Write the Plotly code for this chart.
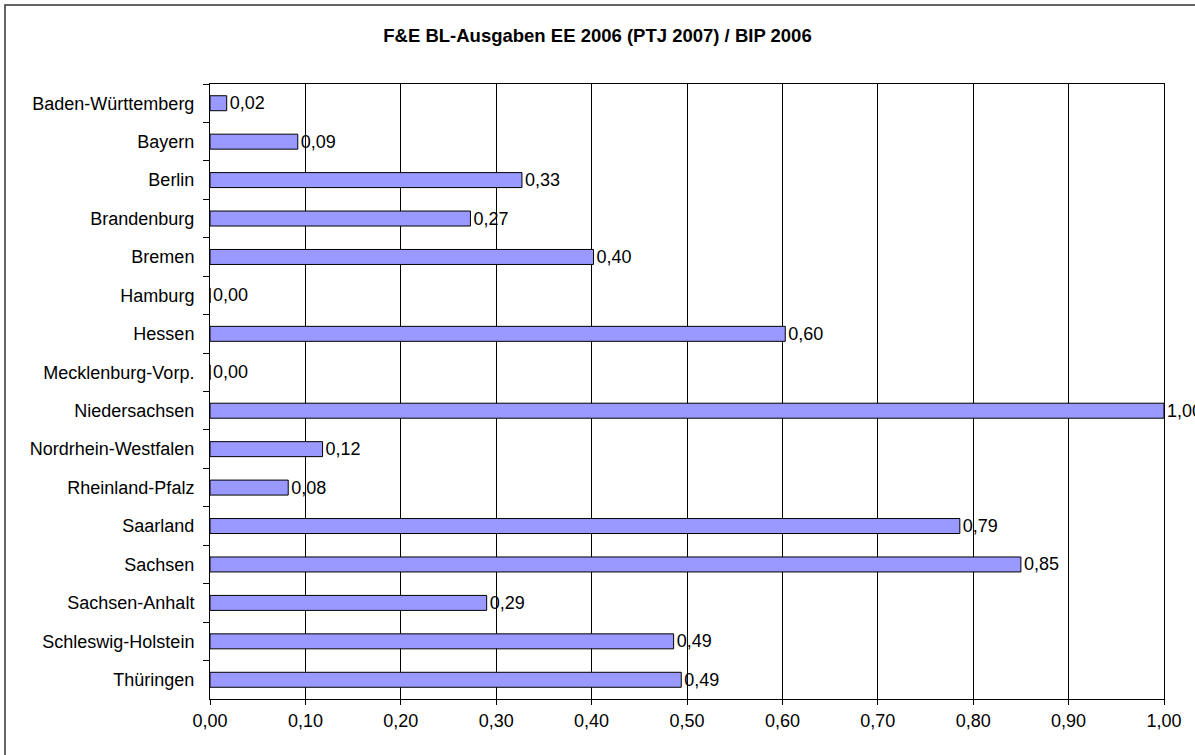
import plotly.graph_objects as go

categories = ["Baden-Württemberg", "Bayern", "Berlin", "Brandenburg", "Bremen",
              "Hamburg", "Hessen", "Mecklenburg-Vorp.", "Niedersachsen",
              "Nordrhein-Westfalen", "Rheinland-Pfalz", "Saarland", "Sachsen",
              "Sachsen-Anhalt", "Schleswig-Holstein", "Thüringen"]
values = [0.0175, 0.092, 0.327, 0.273, 0.402, 0.0, 0.603, 0.0, 1.0,
          0.118, 0.082, 0.786, 0.850, 0.290, 0.486, 0.494]
x_ticks = [0.0, 0.1, 0.2, 0.3, 0.4, 0.5, 0.6, 0.7, 0.8, 0.9, 1.0]
title_text = "F&E BL-Ausgaben EE 2006 (PTJ 2007) / BIP 2006"

FONT = "Liberation Sans, Arial, sans-serif"

fig = go.Figure(go.Bar(
    x=values, y=categories, orientation="h",
    marker=dict(color="#9999FF", line=dict(color="black", width=1)),
    texttemplate="%{x:.2f}", textposition="outside", constraintext="none",
    textfont=dict(family=FONT, size=18, color="black"),
    cliponaxis=False,
))

W, H = 1195, 755
L, R, T, B = 210, 31, 84, 56
pw, ph = W - L - R, H - T - B

fig.update_layout(
    width=W, height=H,
    margin=dict(l=L, r=R, t=T, b=B),
    paper_bgcolor="white", plot_bgcolor="white",
    separators=",.",
    bargap=0.61,
    showlegend=False,
    font=dict(family=FONT, size=18, color="black"),
    title=dict(text="<b>" + title_text + "</b>", xref="container", x=0.5,
               xanchor="center", yref="container", y=1 - 36 / H, yanchor="middle",
               font=dict(family=FONT, size=18.5, color="black")),
    xaxis=dict(range=[0, 1], tickvals=x_ticks, tickformat=".2f",
               showgrid=True, gridcolor="black", gridwidth=1,
               showline=True, linecolor="black", linewidth=1, mirror=True,
               ticks="outside", ticklen=5, tickcolor="black",
               tickfont=dict(family=FONT, size=18), zeroline=False),
    yaxis=dict(autorange="reversed", type="category",
               showgrid=False, showline=True, linecolor="black", linewidth=1,
               mirror=True, ticks="outside", ticklen=6, tickcolor="black",
               tickson="boundaries", ticklabelstandoff=11,
               tickfont=dict(family=FONT, size=18)),
    shapes=[dict(type="rect", xref="paper", yref="paper",
                 x0=(5 - L) / pw, x1=(W + 10 - L) / pw,
                 y0=-(B + 10) / ph, y1=(H - 5 - B) / ph,
                 line=dict(color="#333333", width=1.5), fillcolor="rgba(0,0,0,0)",
                 layer="below")],
)

fig.write_html("out.html", config={"displayModeBar": False},
               post_script="document.body.style.margin='0';")
